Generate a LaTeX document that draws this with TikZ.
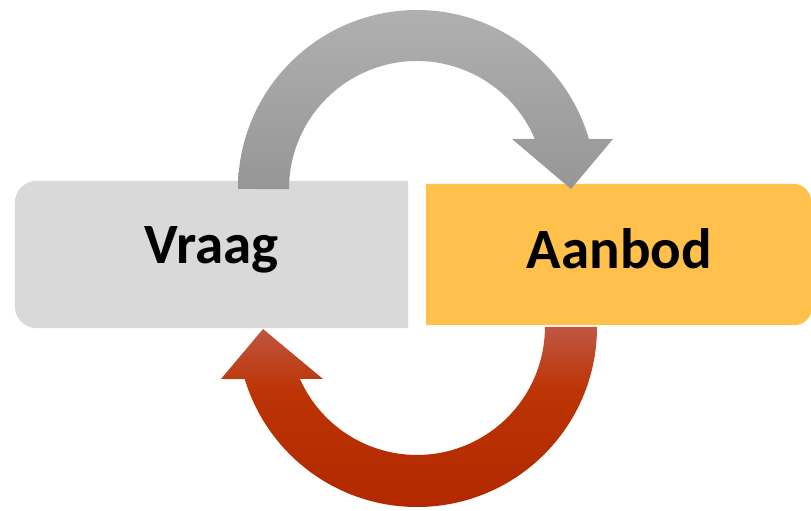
\documentclass[tikz,border=0pt]{standalone}
\usepackage{fontspec}
\setmainfont{Carlito}
\usetikzlibrary{calc,backgrounds}
\definecolor{vraaggray}{RGB}{217,217,217}
\definecolor{aanbodgold}{RGB}{255,193,76}
\definecolor{graytop}{RGB}{176,176,176}
\definecolor{graybot}{RGB}{150,150,150}
\definecolor{redtop}{RGB}{192,86,66}
\definecolor{redmid}{RGB}{188,52,4}
\definecolor{redbot}{RGB}{178,40,0}
\pgfdeclareverticalshading{redshade}{100bp}{color(0bp)=(redbot); color(25bp)=(redbot);
  color(57bp)=(redmid); color(75bp)=(redtop); color(100bp)=(redtop)}
\begin{document}
\begin{tikzpicture}[x=1pt,y=1pt,
    box/.style={minimum width=#1, inner sep=0pt, text height=36pt,
      font=\fontsize{57}{61}\selectfont\bfseries},
    toparrow/.style={top color=graytop, bottom color=graybot},
    botarrow/.style={shading=redshade}]
  \useasboundingbox (0,0) rectangle (811,511);
  \node (vraag) [box=393pt, minimum height=147pt, text depth=17pt] at (211.5,256.5) {Vraag};
  \node (aanbod) [box=385pt, minimum height=141pt, text depth=7pt] at (619.5,256.5) {Aanbod};
  \begin{pgfonlayer}{background}
    \fill[vraaggray] (vraag.north east) -- (vraag.south east)
      -- ([xshift=22pt]vraag.south west) arc (270:180:22pt)
      -- ([yshift=-22pt]vraag.north west) arc (180:90:22pt) -- cycle;
    \fill[aanbodgold] ([xshift=-1pt]aanbod.north west) -- ([xshift=-19pt]aanbod.north east) arc (90:0:18pt)
      -- ([yshift=18pt]aanbod.south east) arc (0:-90:18pt) -- ([xshift=-1pt]aanbod.south west) -- cycle;
  \end{pgfonlayer}
  \coordinate (topc) at (417,322);
  \coordinate (botc) at (417,184);
  \path[toparrow] ($(topc)+(-179,0)$) arc (180:16.2:179pt)
    -- ($(topc)+(196,50)$) -- ($(topc)+(154,0)$) -- ($(topc)+(95,50)$)
    -- ($(topc)+(117.8,50)$) arc (23:180:128pt) -- cycle;
  \path[botarrow] ($(botc)+(180,0)$) arc (0:-163.2:180pt)
    -- ($(botc)+(-196,-52)$) -- ($(botc)+(-154,-2)$) -- ($(botc)+(-94,-52)$)
    -- ($(botc)+(-117,-52)$) arc (-156:0:128pt) -- cycle;
\end{tikzpicture}
\end{document}
